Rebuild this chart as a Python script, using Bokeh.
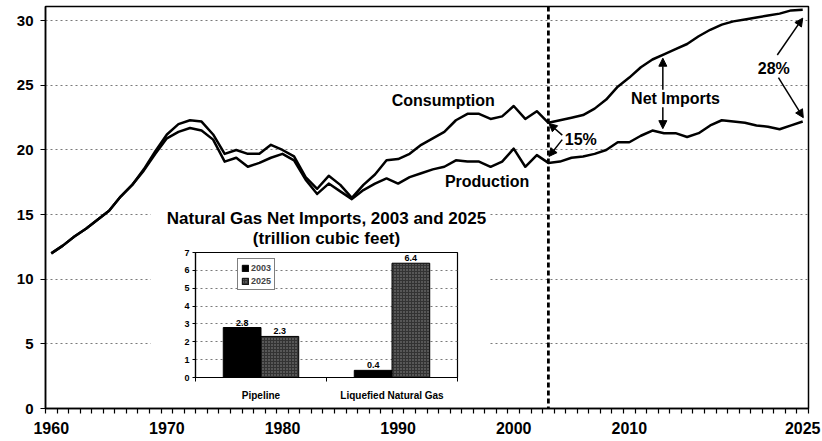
from bokeh.plotting import figure
from bokeh.models import (FixedTicker, Span, Label, Arrow, NormalHead, GridBox,
                          Range1d, ColumnDataSource, Title)
from bokeh.transform import dodge
from bokeh.embed import file_html
from bokeh.resources import INLINE
from bokeh.core.properties import value

# ---------------- data ----------------
years = list(range(1960, 2026))
consumption = [
    12.0, 12.6, 13.3, 13.9, 14.6,
    15.3, 16.4, 17.3, 18.5, 19.9,
    21.2, 22.0, 22.3, 22.2, 21.2,
    19.7, 20.0, 19.7, 19.7, 20.4,
    20.0, 19.5, 17.9, 17.0, 18.0,
    17.3, 16.3, 17.3, 18.1, 19.2,
    19.3, 19.7, 20.4, 20.9, 21.4,
    22.3, 22.8, 22.8, 22.4, 22.6,
    23.4, 22.4, 23.0, 22.1, 22.3,
    22.5, 22.7, 23.2, 23.9, 24.9,
    25.6, 26.4, 27.0, 27.4, 27.8,
    28.2, 28.8, 29.3, 29.7, 29.95,
    30.1, 30.25, 30.4, 30.55, 30.8,
    30.85]
production = [
    12.0, 12.6, 13.3, 13.9, 14.6,
    15.3, 16.4, 17.3, 18.4, 19.7,
    20.9, 21.4, 21.7, 21.5, 20.8,
    19.1, 19.4, 18.7, 19.0, 19.4,
    19.7, 19.2, 17.7, 16.6, 17.4,
    16.8, 16.2, 16.9, 17.4, 17.8,
    17.4, 17.9, 18.2, 18.5, 18.7,
    19.2, 19.1, 19.1, 18.7, 19.1,
    20.1, 18.7, 19.6, 19.0, 19.1,
    19.4, 19.5, 19.7, 20.0, 20.6,
    20.6, 21.1, 21.5, 21.3, 21.3,
    21.0, 21.3, 21.9, 22.3, 22.2,
    22.1, 21.9, 21.8, 21.6, 21.9,
    22.2]
history_end = 2003
x_tick_labels = [1960, 1970, 1980, 1990, 2000, 2010, 2025]
y_ticks = [0, 5, 10, 15, 20, 25, 30]

inset_categories = ["Pipeline", "Liquefied Natural Gas"]
imports_2003 = [2.8, 0.4]
imports_2025 = [2.3, 6.4]
inset_y_ticks = [0, 1, 2, 3, 4, 5, 6, 7]

FONT = "Liberation Sans"
GRID_COLOR = "#7a7a7a"

# ---------------- main chart ----------------
p = figure(width=822, height=441, output_backend="svg", toolbar_location=None,
           x_range=Range1d(years[0] - 0.5, years[-1] + 0.5),
           y_range=Range1d(0, 31.1),
           min_border_left=45, min_border_right=14, min_border_top=6,
           min_border_bottom=33,
           background_fill_color="white", border_fill_color="white")
p.title.visible = False
p.outline_line_color = "black"
p.outline_line_width = 1.5

p.line(years, consumption, line_color="black", line_width=2.5, line_join="round")
p.line(years, production, line_color="black", line_width=2.5, line_join="round")

p.add_layout(Span(location=history_end, dimension="height", line_color="black",
                  line_width=2.8, line_dash="5 3"))

# axes
p.xaxis.ticker = FixedTicker(ticks=x_tick_labels,
                             minor_ticks=[y - 0.5 for y in years] + [years[-1] + 0.5])
p.xaxis.major_tick_out = 0
p.xaxis.major_tick_in = 0
p.xaxis.minor_tick_out = 5
p.xaxis.minor_tick_in = 0
p.xaxis.major_label_standoff = 8
p.yaxis.ticker = FixedTicker(ticks=y_ticks)
p.yaxis.major_tick_out = 5
p.yaxis.major_tick_in = 0
p.yaxis.minor_tick_out = 0
p.yaxis.minor_tick_in = 0
p.yaxis.major_label_standoff = 7
for ax in (p.xaxis, p.yaxis):
    ax.axis_line_color = "black"
    ax.axis_line_width = 1.5
    ax.major_tick_line_color = "black"
    ax.minor_tick_line_color = "black"
    ax.major_tick_line_width = 1.2
    ax.minor_tick_line_width = 1.2
    ax.major_label_text_font = FONT
    ax.major_label_text_font_style = "bold"
    ax.major_label_text_color = "black"
p.xaxis.major_label_text_font_size = "16px"
p.yaxis.major_label_text_font_size = "15px"

p.xgrid.visible = False
p.ygrid.ticker = FixedTicker(ticks=y_ticks[1:])
p.ygrid.grid_line_color = GRID_COLOR
p.ygrid.grid_line_dash = "2 3"
p.ygrid.grid_line_width = 1

# annotations
def lab(x, y, t, size="16px"):
    p.add_layout(Label(x=x, y=y, text=t, text_font=FONT, text_font_size=size,
                       text_font_style="bold", text_align="center",
                       text_baseline="middle", text_color="black"))

lab(1993.9, 23.8, "Consumption")
lab(1997.7, 17.55, "Production")
lab(2005.8, 20.8, "15%")
lab(2014.0, 24.0, "Net Imports")
lab(2022.5, 26.3, "28%")

def arrow(x0, y0, x1, y1):
    p.add_layout(Arrow(end=NormalHead(size=8, fill_color="black", line_color="black"),
                       x_start=x0, y_start=y0, x_end=x1, y_end=y1,
                       line_color="black", line_width=1.5))

arrow(2004.2, 21.15, 2003.05, 22.05)
arrow(2004.2, 20.8, 2003.05, 19.5)
arrow(2012.9, 24.65, 2012.9, 27.1)
arrow(2012.9, 23.3, 2012.9, 21.65)
arrow(2022.8, 27.35, 2025.0, 30.2)
arrow(2022.9, 25.6, 2025.05, 22.5)

# ---------------- inset bar chart ----------------
inset = figure(width=340, height=198, output_backend="svg", toolbar_location=None,
               x_range=Range1d(0.5, len(inset_categories) + 0.5),
               y_range=Range1d(inset_y_ticks[0], inset_y_ticks[-1]),
               min_border_left=45, min_border_right=33, min_border_top=47,
               min_border_bottom=24,
               background_fill_color="white", border_fill_color="white")
inset.title.visible = False
for txt, so in (("(trillion cubic feet)", 10), ("Natural Gas Net Imports, 2003 and 2025", -13)):
    inset.add_layout(Title(text=txt, align="center", text_font=FONT,
                           text_font_size="17px", text_font_style="bold",
                           text_color="black", standoff=so), "above")
inset.outline_line_color = "black"
inset.outline_line_width = 1.2

cat_x = [i + 1 for i in range(len(inset_categories))]
src = ColumnDataSource(dict(
    x=cat_x, y03=imports_2003, y25=imports_2025,
    l03=[f"{v:.1f}" for v in imports_2003],
    l25=[f"{v:.1f}" for v in imports_2025]))

inset.vbar(x=dodge("x", -0.144), top="y03", width=0.288, source=src,
           fill_color="black", line_color="black", legend_label="2003")
inset.vbar(x=dodge("x", 0.144), top="y25", width=0.288, source=src,
           fill_color="#333333", line_color="black", hatch_pattern="dot",
           hatch_color="#8c8c8c", hatch_scale=3, hatch_weight=1,
           legend_label="2025")
for off, col, lcol in ((-0.144, "y03", "l03"), (0.144, "y25", "l25")):
    inset.text(x=dodge("x", off), y=col, text=lcol, source=src,
               text_align="center", text_baseline="bottom", y_offset=-2,
               text_font=value(FONT), text_font_size="9px",
               text_font_style="bold", text_color="black")

inset.xaxis.ticker = FixedTicker(ticks=cat_x,
                                 minor_ticks=[c - 0.5 for c in cat_x] + [cat_x[-1] + 0.5])
inset.xaxis.major_label_overrides = {c: n for c, n in zip(cat_x, inset_categories)}
inset.xaxis.major_tick_out = 0
inset.xaxis.major_tick_in = 0
inset.xaxis.minor_tick_out = 4
inset.xaxis.minor_tick_in = 0
inset.xaxis.major_label_standoff = 8
inset.xaxis.major_label_text_font_size = "10px"
inset.yaxis.ticker = FixedTicker(ticks=inset_y_ticks)
inset.yaxis.major_tick_out = 3
inset.yaxis.major_tick_in = 0
inset.yaxis.minor_tick_out = 0
inset.yaxis.minor_tick_in = 0
inset.yaxis.major_label_standoff = 3
inset.yaxis.major_label_text_font_size = "9px"
for ax in (inset.xaxis, inset.yaxis):
    ax.axis_line_color = "black"
    ax.axis_line_width = 1.2
    ax.major_tick_line_color = "black"
    ax.minor_tick_line_color = "black"
    ax.major_label_text_font = FONT
    ax.major_label_text_font_style = "bold"
    ax.major_label_text_color = "black"
inset.xgrid.visible = False
inset.ygrid.ticker = FixedTicker(ticks=inset_y_ticks[1:-1])
inset.ygrid.grid_line_color = GRID_COLOR
inset.ygrid.grid_line_dash = "2 3"

inset.legend.location = (42, 87)
inset.legend.label_text_font = FONT
inset.legend.label_text_font_size = "9px"
inset.legend.label_text_font_style = "bold"
inset.legend.glyph_width = 8
inset.legend.glyph_height = 8
inset.legend.label_height = 11
inset.legend.label_standoff = 2
inset.legend.spacing = 2
inset.legend.padding = 3
inset.legend.margin = 0
inset.legend.border_line_color = "black"
inset.legend.border_line_width = 1.2
inset.legend.background_fill_alpha = 1

layout = GridBox(children=[(p, 0, 0, 3, 3), (inset, 1, 1, 1, 1)],
                 rows=["205px", "198px", "38px"],
                 cols=["150px", "340px", "332px"])

open("out.html", "w").write(file_html(layout, INLINE))
